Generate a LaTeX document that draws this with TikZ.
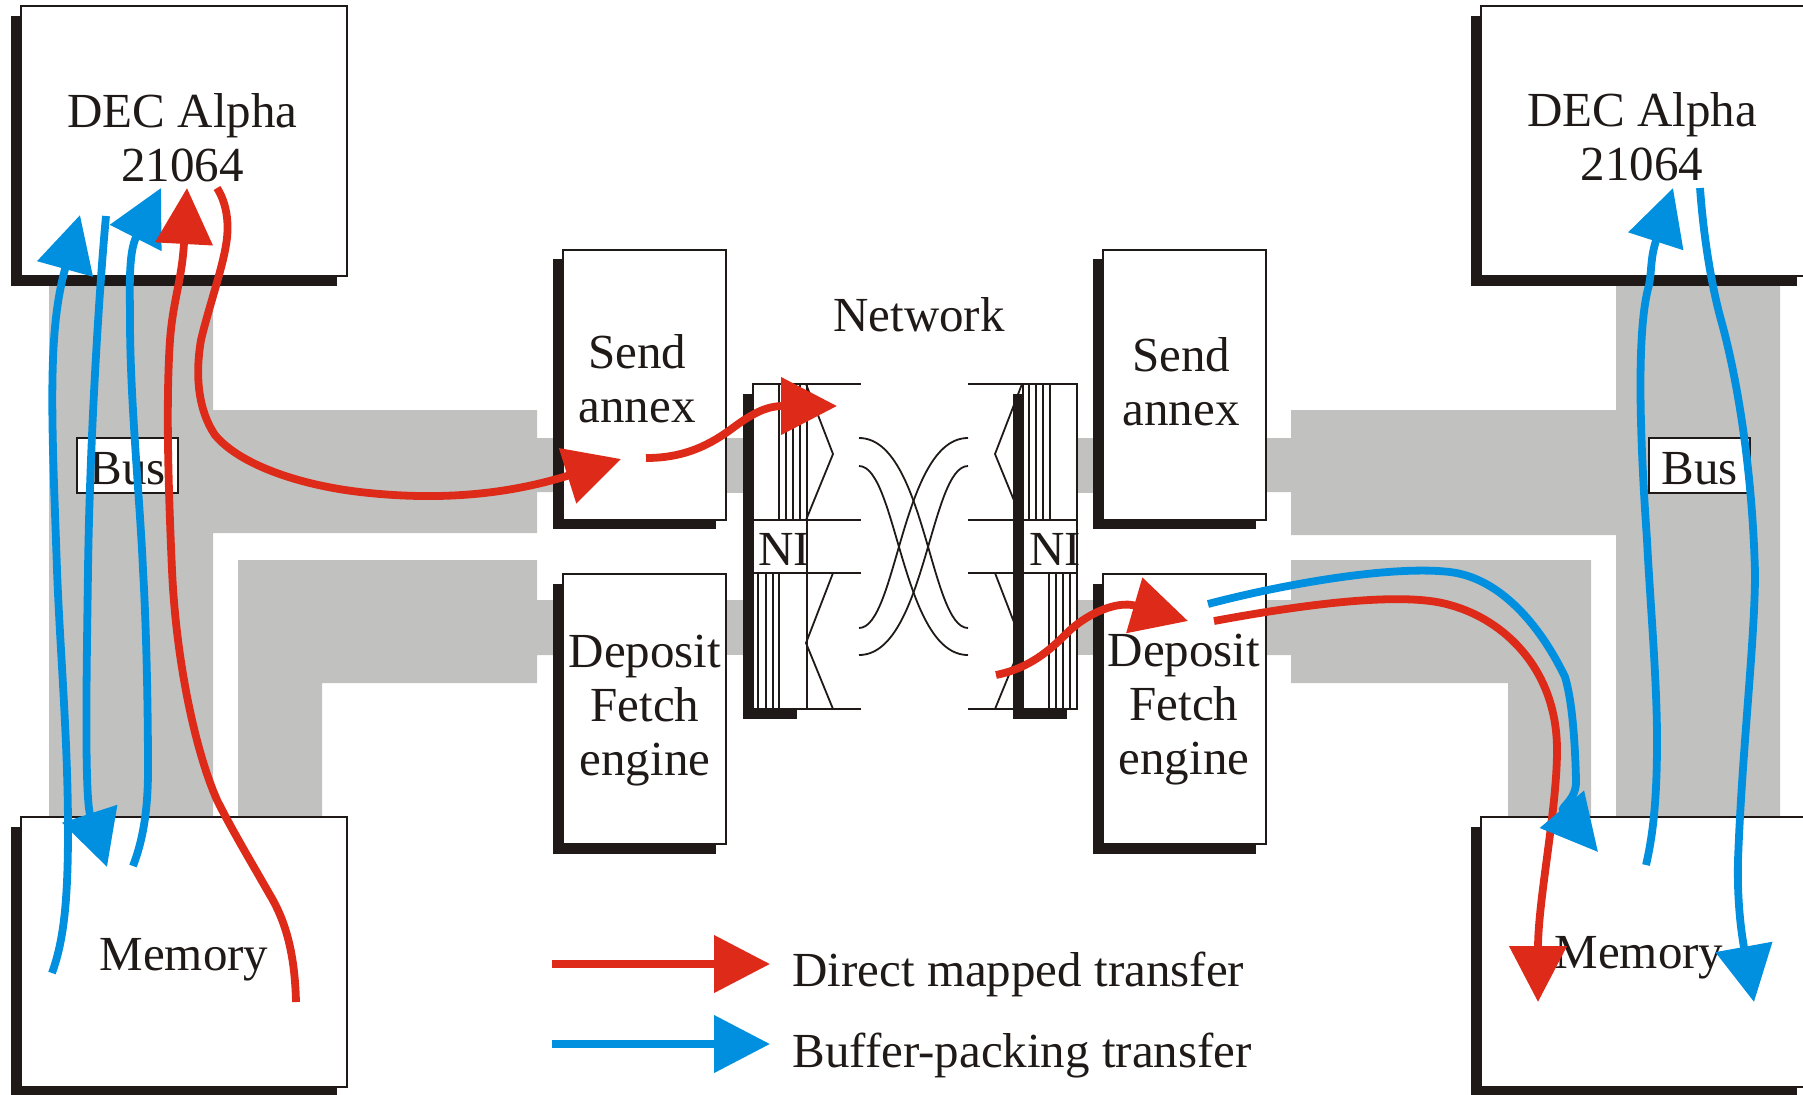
\documentclass[tikz,border=0pt]{standalone}
\usepackage{fontspec}
\setmainfont{Liberation Serif}
\usetikzlibrary{arrows.meta, positioning, shadows}
\definecolor{inkc}{HTML}{1F1A17}
\definecolor{busc}{HTML}{C1C1C0}
\definecolor{redc}{HTML}{DE2A18}
\definecolor{bluec}{HTML}{0090DF}
\tikzset{
  dropbox/.style={draw=inkc, fill=white, line width=1pt, inner sep=0pt,
    general shadow={fill=inkc, shadow xshift=-5pt, shadow yshift=-4.75pt}},
  hostbox/.style={dropbox, minimum width=163pt, minimum height=135pt},
  unitbox/.style={dropbox, minimum width=81.5pt, minimum height=135pt},
  niframe/.style={dropbox, minimum width=27pt, minimum height=162.5pt},
  busbox/.style={draw=inkc, fill=white, line width=0.9pt, inner sep=0pt, minimum width=50.5pt, minimum height=27.5pt, text=inkc, text height=19pt, font=\fontsize{24.5}{27}\selectfont},
  txt/.style={text=inkc, align=center, inner sep=0pt, font=\fontsize{24.5}{27}\selectfont},
  wire/.style={draw=inkc, line width=0.9pt},
  busfill/.style={fill=busc},
  flow/.style={line width=3.9pt, -{Triangle[length=28pt, width=28pt]}},
  redflow/.style={flow, draw=redc, color=redc},
  blueflow/.style={flow, draw=bluec, color=bluec}
}
\begin{document}
\begin{tikzpicture}[x=0.5pt, y=-0.5pt, on grid]
  \path[clip, use as bounding box] (0,0) rectangle (1803,1094);

  \fill[busfill] (49,280) -- (213,280) -- (213,410) -- (537,410) -- (537,438) -- (553,438) -- (553,492) -- (537,492) -- (537,533) -- (213,533) -- (213,817) -- (49,817) -- cycle;
  \fill[busfill] (238,560) -- (537,560) -- (537,600) -- (553,600) -- (553,655) -- (537,655) -- (537,683) -- (322,683) -- (322,817) -- (238,817) -- cycle;
  \fill[busfill] (1616,280) -- (1780,280) -- (1780,817) -- (1616,817) -- (1616,535) -- (1291,535) -- (1291,492) -- (1266,492) -- (1266,438) -- (1291,438) -- (1291,410) -- (1616,410) -- cycle;
  \fill[busfill] (1591,560) -- (1591,817) -- (1508,817) -- (1508,683) -- (1291,683) -- (1291,655) -- (1266,655) -- (1266,600) -- (1291,600) -- (1291,560) -- cycle;
  \foreach \xs in {726,1077}
    \foreach \ys in {438,600}
      \fill[busfill] (\xs,\ys) rectangle +(17,55);

  \node[hostbox] (alpha_l) at (184,141) {};
  \node[hostbox, below=405.5pt of alpha_l] (mem_l) {};
  \node[hostbox] (alpha_r) at (1644,141) {};
  \node[hostbox, below=405.5pt of alpha_r] (mem_r) {};
  \node[unitbox] (send_l) at (644,384.5) {};
  \node[unitbox, below=162.25pt of send_l] (dep_l) {};
  \node[unitbox, right=270.25pt of send_l] (send_r) {};
  \node[unitbox, below=162.25pt of send_r] (dep_r) {};
  \node[niframe] (ni_l) at (779.5,546.5) {};
  \node[niframe, right=135.25pt of ni_l] (ni_r) {};

  \foreach \xb in {779,786,793,800}
    \draw[wire] (\xb,384) -- (\xb,520);
  \foreach \xb in {758,766,773,779}
    \draw[wire] (\xb,573) -- (\xb,709);
  \foreach \xb in {1029,1036,1043,1050}
    \draw[wire] (\xb,384) -- (\xb,520);
  \foreach \xb in {1049,1056,1063,1070}
    \draw[wire] (\xb,573) -- (\xb,709);
  \foreach \yb in {384,520,573,709} {
    \draw[wire] (753,\yb) -- (861,\yb);
    \draw[wire] (968,\yb) -- (1077,\yb);
  }
  \draw[wire] (806,384) -- (833,454) -- (806,520);
  \draw[wire] (833,573) -- (806,643) -- (833,709);
  \draw[wire] (1022,384) -- (995,454) -- (1022,520);
  \draw[wire] (995,573) -- (1022,643) -- (995,709);

  \coordinate (net_l1) at (859,438);
  \coordinate (net_l2) at (859,466);
  \coordinate (net_l3) at (859,628);
  \coordinate (net_l4) at (859,655);
  \coordinate (net_r1) at (968,438);
  \coordinate (net_r2) at (968,466);
  \coordinate (net_r3) at (968,628);
  \coordinate (net_r4) at (968,655);
  \draw[wire] (net_l1) .. controls +(66,0) and +(-38,0) .. (net_r3);
  \draw[wire] (net_l2) .. controls +(38,0) and +(-66,0) .. (net_r4);
  \draw[wire] (net_r1) .. controls +(-66,0) and +(38,0) .. (net_l3);
  \draw[wire] (net_r2) .. controls +(-38,0) and +(66,0) .. (net_l4);

  \node[txt] (alpha_lt) at (182.5,138) {DEC Alpha\\21064};
  \node[txt] (alpha_rt) at (1642,136.5) {DEC Alpha\\21064};
  \node[txt] (mem_lt) at (184,960) {Memory};
  \node[txt] (mem_rt) at (1639,957.5) {Memory};
  \node[txt] (send_lt) at (637,379) {Send\\annex};
  \node[txt] (send_rt) at (1181,381.5) {Send\\annex};
  \node[txt] (dep_lt) at (645,711) {Deposit\\Fetch\\engine};
  \node[txt] (dep_rt) at (1184,710) {Deposit\\Fetch\\engine};
  \node[txt] (ni_lt) at (784,549) {NI};
  \node[txt] (ni_rt) at (1055,549) {NI};
  \node[txt] (net) at (919,315) {Network};
  \node[busbox] (bus_l) at (127.5,465.5) {Bus};
  \node[busbox] (bus_r) at (1699.5,465.5) {Bus};

  \coordinate (mem_l1) at (52,973);
  \coordinate (alpha_l1) at (80,215);
  \coordinate (alpha_l2) at (106,216);
  \coordinate (mem_l2) at (107,867);
  \coordinate (mem_l3) at (133,866);
  \coordinate (alpha_l3) at (161,188);
  \coordinate (mem_l4) at (296,1002);
  \coordinate (alpha_l4) at (187,188);
  \coordinate (alpha_l5) at (217,188);
  \coordinate (send_l1) at (621,459);
  \coordinate (send_l2) at (646,458);
  \coordinate (net_o) at (837,406);
  \coordinate (net_i) at (996,675);
  \coordinate (dep_r1) at (1188,621);
  \coordinate (dep_r2) at (1214,621);
  \coordinate (mem_r1) at (1538,1002);
  \coordinate (dep_r3) at (1208,604);
  \coordinate (mem_r2) at (1598,852);
  \coordinate (mem_r3) at (1646,865);
  \coordinate (alpha_r1) at (1673,188);
  \coordinate (alpha_r2) at (1700,188);
  \coordinate (mem_r4) at (1754,1002);

  \draw[blueflow] (mem_l1) .. controls (64,940) and (68,900) .. (68,830) .. controls (68,740) and (60,650) .. (57,570) .. controls (54,480) and (50,400) .. (54,340) .. controls (56,310) and (60,287) .. (alpha_l1);
  \draw[blueflow] (alpha_l2) .. controls (100,280) and (90,430) .. (88,570) .. controls (87,650) and (84,796) .. (mem_l2);
  \draw[blueflow] (mem_l3) .. controls (143,840) and (148,810) .. (148,770) .. controls (148,700) and (146,620) .. (143,570) .. controls (140,500) and (130,400) .. (130,320) .. controls (130,290) and (128,253) .. (alpha_l3);
  \draw[redflow] (mem_l4) .. controls (295,960) and (288,925) .. (270,895) .. controls (250,860) and (232,830) .. (217,800) .. controls (195,750) and (176,660) .. (172,570) .. controls (168,480) and (166,400) .. (170,340) .. controls (173,300) and (182,280) .. (alpha_l4);
  \draw[redflow] (alpha_l5) .. controls (226,202) and (230,222) .. (226,245) .. controls (222,270) and (208,310) .. (201,340) .. controls (195,375) and (198,410) .. (215,435) .. controls (240,465) and (300,485) .. (360,492) .. controls (430,500) and (500,497) .. (send_l1);
  \draw[redflow] (send_l2) .. controls (680,458) and (705,448) .. (730,430) .. controls (750,415) and (765,406) .. (net_o);
  \draw[redflow] (net_i) .. controls (1030,668) and (1050,650) .. (1067,633) .. controls (1085,615) and (1116,600) .. (dep_r1);
  \draw[redflow] (dep_r2) .. controls (1290,607) and (1400,590) .. (1450,605) .. controls (1505,620) and (1557,670) .. (1557,750) .. controls (1557,810) and (1538,900) .. (mem_r1);
  \draw[blueflow] (dep_r3) .. controls (1280,585) and (1390,565) .. (1450,572) .. controls (1500,578) and (1540,625) .. (1565,677) .. controls (1572,700) and (1575,740) .. (1576,780) .. controls (1577,800) and (1560,807) .. (mem_r2);
  \draw[blueflow] (mem_r3) .. controls (1653,835) and (1657,800) .. (1657,740) .. controls (1657,680) and (1650,600) .. (1647,540) .. controls (1640,440) and (1636,330) .. (1649,285) .. controls (1652,270) and (1650,259) .. (alpha_r1);
  \draw[blueflow] (alpha_r2) .. controls (1703,230) and (1710,280) .. (1721,320) .. controls (1735,370) and (1752,460) .. (1755,573) .. controls (1755,640) and (1742,750) .. (1738,860) .. controls (1737,900) and (1741,931) .. (mem_r4);

  \coordinate (key_r1) at (552,964);
  \coordinate (key_r2) at (770,964);
  \coordinate (key_b1) at (552,1044);
  \coordinate (key_b2) at (770,1044);
  \draw[redflow] (key_r1) -- (key_r2);
  \draw[blueflow] (key_b1) -- (key_b2);
  \node[txt, anchor=west] (key_rt) at (792,974.5) {Direct mapped transfer};
  \node[txt, anchor=west] (key_bt) at (792,1055.5) {Buffer-packing transfer};
\end{tikzpicture}
\end{document}
